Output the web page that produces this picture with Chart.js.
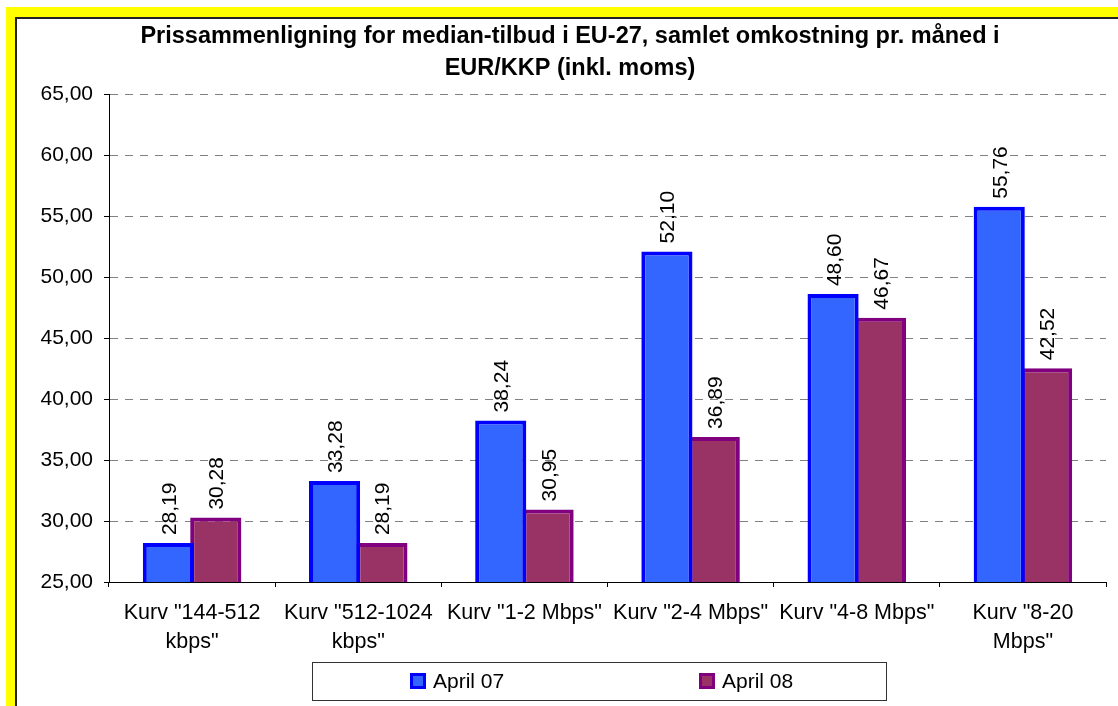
<!DOCTYPE html>
<html>
<head>
<meta charset="utf-8">
<script src="https://cdn.jsdelivr.net/npm/chart.js@4.4.0/dist/chart.umd.min.js"></script>
<style>
  html, body { margin: 0; padding: 0; width: 1118px; height: 706px; overflow: hidden; background: #fff; }
  #frame { position: absolute; left: 6px; top: 7px; width: 1200px; height: 800px; background: #ffff00; }
  #inner { position: absolute; left: 9px; top: 10px; right: 0; bottom: 0; background: #fff;
           border-left: 2px solid #222; border-top: 2px solid #222; }
  #chart { position: absolute; left: 0; top: 0; }
</style>
</head>
<body>
<div id="frame"><div id="inner"></div></div>
<canvas id="chart" width="1118" height="706"></canvas>
<script>
// categories (multi-line labels as in the original)
const categories = [
    ['Kurv "144-512', 'kbps"'],
    ['Kurv "512-1024', 'kbps"'],
    'Kurv "1-2 Mbps"',
    'Kurv "2-4 Mbps"',
    'Kurv "4-8 Mbps"',
    ['Kurv "8-20', 'Mbps"']
];
const april07 = [28.19, 33.28, 38.24, 52.10, 48.60, 55.76];
const april08 = [30.28, 28.19, 30.95, 36.89, 46.67, 42.52];
const yMin = 25, yMax = 65, yStep = 5;

const titleLines = [
    'Prissammenligning for median-tilbud i EU-27, samlet omkostning pr. måned i',
    'EUR/KKP (inkl. moms)'
];

const FONT = '"Liberation Sans", Arial, sans-serif';
const fmt = v => v.toFixed(2).replace('.', ',');

Chart.defaults.font.family = FONT;
Chart.defaults.color = '#000';

// rotated value labels above the bars
const valueLabels = {
    id: 'valueLabels',
    afterDatasetsDraw(chart) {
        const ctx = chart.ctx;
        ctx.save();
        ctx.font = '21px ' + FONT;
        ctx.fillStyle = '#000';
        ctx.textAlign = 'left';
        ctx.textBaseline = 'alphabetic';
        chart.data.datasets.forEach((ds, i) => {
            chart.getDatasetMeta(i).data.forEach((bar, j) => {
                ctx.save();
                ctx.translate(bar.x, bar.y - 8);
                ctx.rotate(-Math.PI / 2);
                ctx.fillText(fmt(ds.data[j]), 0, 7.5);
                ctx.restore();
            });
        });
        ctx.restore();
    }
};

// boxed legend below the axis, items spread out like Excel does it
const boxedLegend = {
    id: 'boxedLegend',
    afterDraw(chart) {
        const { ctx, chartArea } = chart;
        const left = chartArea.left + 203, top = chartArea.bottom + 80, w = 574, h = 38;
        ctx.save();
        ctx.strokeStyle = '#333';
        ctx.lineWidth = 1;
        ctx.strokeRect(left + 0.5, top + 0.5, w, h);
        ctx.font = '21px ' + FONT;
        ctx.textAlign = 'left';
        ctx.textBaseline = 'middle';
        chart.data.datasets.forEach((ds, i) => {
            const x = left + 98 + i * 289;
            const cy = top + h / 2;
            ctx.fillStyle = ds.borderColor;
            ctx.fillRect(x, cy - 8, 16, 16);
            ctx.fillStyle = ds.backgroundColor;
            ctx.fillRect(x + 3, cy - 5, 10, 10);
            ctx.fillStyle = '#000';
            ctx.fillText(ds.label, x + 23, cy + 1);
        });
        ctx.restore();
    }
};

new Chart(document.getElementById('chart'), {
    type: 'bar',
    data: {
        labels: categories,
        datasets: [{
            label: 'April 07',
            data: april07,
            backgroundColor: '#3366ff',
            borderColor: '#0000ff',
            borderWidth: 4,
            borderSkipped: false
        },
        {
            label: 'April 08',
            data: april08,
            backgroundColor: '#993366',
            borderColor: '#800080',
            borderWidth: 4,
            borderSkipped: false
        }]
    },
    options: {
        responsive: false,
        animation: false,
        categoryPercentage: 0.57,
        barPercentage: 1.08,
        layout: { padding: { left: 34, right: 12, top: 0, bottom: 0 } },
        plugins: {
            legend: { display: false },
            tooltip: { enabled: false },
            title: {
                display: true,
                text: titleLines,
                color: '#000',
                font: { size: 23.5, weight: 'bold', lineHeight: 1.35 },
                padding: { top: 21, bottom: 9.6 }
            }
        },
        scales: {
            x: {
                afterFit(scale) { scale.height = 124; },
                grid: { drawOnChartArea: false, tickLength: 5, color: '#000' },
                border: { color: '#000', width: 1 },
                ticks: {
                    autoSkip: false,
                    maxRotation: 0,
                    padding: 11,
                    color: '#000',
                    font: { size: 21.5, lineHeight: 1.372 }
                }
            },
            y: {
                min: yMin,
                max: yMax,
                afterFit(scale) { scale.width = 75; },
                grid: { color: '#808080', tickColor: '#000', tickLength: 5, tickBorderDash: [] },
                border: { color: '#000', width: 1, dash: [8, 7] },
                ticks: {
                    stepSize: yStep,
                    padding: 11,
                    color: '#000',
                    font: { size: 21 },
                    callback: v => fmt(v)
                }
            }
        }
    },
    plugins: [valueLabels, boxedLegend]
});
</script>
</body>
</html>
